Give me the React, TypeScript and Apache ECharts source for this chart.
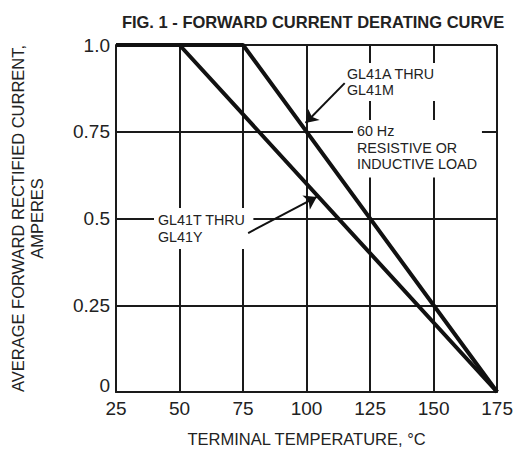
import React, { useEffect, useRef } from "react";
import * as echarts from "echarts";

const xTicks = [25, 50, 75, 100, 125, 150, 175];
const yTicks = [0, 0.25, 0.5, 0.75, 1.0];
const curveA: [number, number][] = [[25, 1], [75, 1], [175, 0]];
const curveT: [number, number][] = [[25, 1], [50, 1], [175, 0]];
const arrowA: [number, number][] = [[115, 0.89], [99.6, 0.775]];
const arrowT: [number, number][] = [[77, 0.458], [104, 0.562]];
const labelA = "GL41A THRU\nGL41M";
const labelT = "GL41T THRU\nGL41Y";
const labelLoad = "60 Hz\nRESISTIVE OR\nINDUCTIVE LOAD";

export default function App() {
  const ref = useRef<HTMLDivElement>(null);
  useEffect(() => {
    if (!ref.current) return;
    const chart = echarts.init(ref.current, undefined, { renderer: "svg" });
    const ink = "#1a1a1a";
    const font = "Liberation Sans, Arial, sans-serif";
    chart.setOption({
      animation: false,
      backgroundColor: "#fff",
      title: {
        text: "FIG. 1 - FORWARD CURRENT DERATING CURVE",
        left: 308,
        textAlign: "center",
        top: 8,
        textStyle: { fontFamily: font, fontSize: 16.5, fontWeight: "bold", color: "#222" },
      },
      grid: { left: 115, right: 18, top: 45, bottom: 61, show: false },
      xAxis: {
        type: "value",
        min: xTicks[0],
        max: xTicks[xTicks.length - 1],
        interval: 25,
        name: "TERMINAL TEMPERATURE, °C",
        nameLocation: "middle",
        nameGap: 38,
        nameTextStyle: { fontFamily: font, fontSize: 16.5, color: "#222" },
        axisLine: { show: true, lineStyle: { color: ink, width: 2 } },
        axisTick: { show: false },
        axisLabel: { fontFamily: font, fontSize: 19, color: "#222", margin: 7 },
        splitLine: { show: true, lineStyle: { color: ink, width: 2 } },
      },
      yAxis: {
        type: "value",
        min: yTicks[0],
        max: yTicks[yTicks.length - 1],
        interval: 0.25,
        name: "AVERAGE FORWARD RECTIFIED CURRENT,\nAMPERES",
        nameLocation: "middle",
        nameGap: 70,
        nameTextStyle: { fontFamily: font, fontSize: 16.5, color: "#222", lineHeight: 19 },
        axisLine: { show: true, lineStyle: { color: ink, width: 2 } },
        axisTick: { show: false },
        axisLabel: {
          fontFamily: font,
          fontSize: 19,
          color: "#222",
          margin: 6,
          formatter: (v: number) => (v === 1 ? "1.0" : v === 0 ? "{z|0}" : String(v)),
          rich: { z: { fontFamily: font, fontSize: 19, color: "#222", padding: [0, 0, 14, 0] } },
        },
        splitLine: { show: true, lineStyle: { color: ink, width: 2 } },
      },
      series: [
        {
          type: "line",
          data: curveA,
          symbol: "none",
          lineStyle: { color: "#111", width: 4 },
          z: 5,
          markLine: {
            silent: true,
            symbol: ["none", "arrow"],
            symbolSize: 12,
            label: { show: false },
            lineStyle: { color: "#111", width: 2, type: "solid" },
            data: [[{ coord: arrowA[0] }, { coord: arrowA[1] }]],
          },
        },
        {
          type: "line",
          data: curveT,
          symbol: "none",
          lineStyle: { color: "#111", width: 4 },
          z: 5,
          markLine: {
            silent: true,
            symbol: ["none", "arrow"],
            symbolSize: 12,
            label: { show: false },
            lineStyle: { color: "#111", width: 2, type: "solid" },
            data: [[{ coord: arrowT[0] }, { coord: arrowT[1] }]],
          },
        },
      ],
      graphic: [
        {
          type: "text",
          x: 344,
          y: 63,
          z: 3,
          style: {
            text: labelA,
            font: `14.3px ${font}`,
            fill: "#222",
            lineHeight: 16,
            backgroundColor: "#fff",
            padding: [3, 4, 3, 3],
          },
        },
        {
          type: "text",
          x: 353,
          y: 120,
          z: 3,
          style: {
            text: labelLoad,
            font: `14.3px ${font}`,
            fill: "#222",
            lineHeight: 16.5,
            backgroundColor: "#fff",
            padding: [3, 5, 5, 4],
          },
        },
        {
          type: "text",
          x: 154,
          y: 208,
          z: 3,
          style: {
            text: labelT,
            font: `14.3px ${font}`,
            fill: "#222",
            lineHeight: 17,
            backgroundColor: "#fff",
            padding: [3, 8, 4, 4],
          },
        },
      ],
    });
    return () => chart.dispose();
  }, []);
  return (
    <div
      ref={ref}
      style={{ position: "absolute", left: 0, top: 0, width: 516, height: 453 }}
    />
  );
}
